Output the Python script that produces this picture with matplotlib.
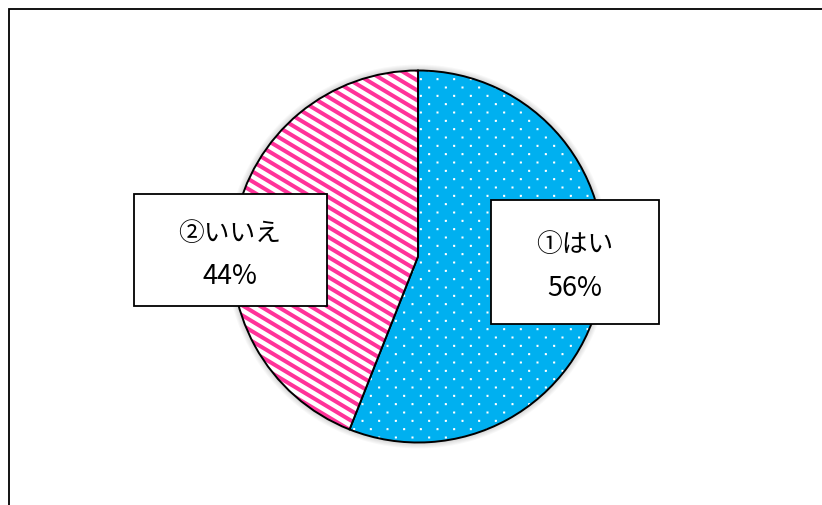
import numpy as np
import matplotlib
matplotlib.use("Agg")
import matplotlib.pyplot as plt
import matplotlib.hatch as mhatch
from matplotlib.colors import to_rgba
from matplotlib.patches import Rectangle, Circle

plt.rcParams['font.family'] = ['Noto Sans CJK JP', 'DejaVu Sans']

# ---- data ----
categories = ['①はい', '②いいえ']
values = [56, 44]
colors = ['#00B0F0', '#FF3399']


# ---- custom hatch textures (dots and slanted stripes) ----
class StaggerDots(mhatch.HatchPatternBase):
    """'.' : staggered white dots."""
    def __init__(self, hatch, density):
        n = hatch.count('.') * density * 2
        self.pts = [((i + 0.5) / n, (j + 0.5) / n)
                    for i in range(n) for j in range(n) if (i + j) % 2 == 0]
        self.num_vertices = len(self.pts) * 5 if n > 0 else 0

    def set_vertices_and_codes(self, vertices, codes):
        s = 0.004
        sq = np.array([[-s, -s], [s, -s], [s, s], [-s, s], [-s, -s]])
        for k, (x, y) in enumerate(self.pts):
            vertices[k * 5:(k + 1) * 5] = sq + [x, y]
            codes[k * 5:(k + 1) * 5] = [1, 2, 2, 2, 79]


class SlantStripes(mhatch.HatchPatternBase):
    """'\\' : lines 6x + 10y = k (descending to the right)."""
    def __init__(self, hatch, density):
        self.on = hatch.count('\\') > 0
        self.ks = list(range(-10, 27)) if self.on else []
        self.num_vertices = len(self.ks) * 2

    def set_vertices_and_codes(self, vertices, codes):
        for m, k in enumerate(self.ks):
            x0, x1 = -1.0, 2.0
            vertices[2 * m] = [x0, (k - 6 * x0) / 10]
            vertices[2 * m + 1] = [x1, (k - 6 * x1) / 10]
            codes[2 * m] = 1
            codes[2 * m + 1] = 2


mhatch._hatch_types = [StaggerDots, SlantStripes]

# ---- figure ----
W, H = 822, 506
CENTER = (418, H - 257.5)
RADIUS = 186
fig = plt.figure(figsize=(W / 100, H / 100), dpi=100)
ax = fig.add_axes([0, 0, 1, 1])

# soft shadow glow around the pie
for k in range(1, 7):
    ax.add_patch(Circle(CENTER, RADIUS + k, facecolor='black', edgecolor='none',
                        alpha=0.028, zorder=0))

wedges, _ = ax.pie(values, colors=colors, startangle=90, counterclock=False,
                   center=CENTER, radius=RADIUS,
                   wedgeprops=dict(edgecolor='black', linewidth=1.4, zorder=2))

# textures
wedges[0].set_hatch('.')
wedges[1].set_facecolor('white')
wedges[1].set_hatch('\\')
try:
    wedges[0].set_hatch_linewidth(0.9)
    wedges[1].set_hatch_linewidth(2.9)
except AttributeError:
    plt.rcParams['hatch.linewidth'] = 2.0
for w in wedges:
    w.set_edgecolor('black')
wedges[0]._hatch_color = to_rgba('white')
wedges[1]._hatch_color = to_rgba(colors[1])

ax.set_xlim(0, W)
ax.set_ylim(0, H)
ax.set_aspect('equal')
ax.axis('off')

# outer chart border (top and left visible)
ax.add_patch(Rectangle((9, -40), 900, H - 10 + 40, fill=False,
                       edgecolor='black', linewidth=1.3))

# label boxes
boxes = [(491, 201, 168, 124), (134, 195, 193, 112)]   # x, y(top), w, h in px
label_pos = [(575, 245, 288), (230, 234, 276)]
for (bx, by, bw, bh), (tx, ty1, ty2), cat, val in zip(boxes, label_pos, categories, values):
    ax.add_patch(Rectangle((bx, H - by - bh), bw, bh, facecolor='white',
                           edgecolor='black', linewidth=1.3, zorder=5))
    ax.text(tx, H - ty1, cat, ha='center', va='center', fontsize=18.5, zorder=6)
    ax.text(tx, H - ty2, f'{val}%', ha='center', va='center', fontsize=19.5, zorder=6)

fig.savefig('out.png', dpi=100)
